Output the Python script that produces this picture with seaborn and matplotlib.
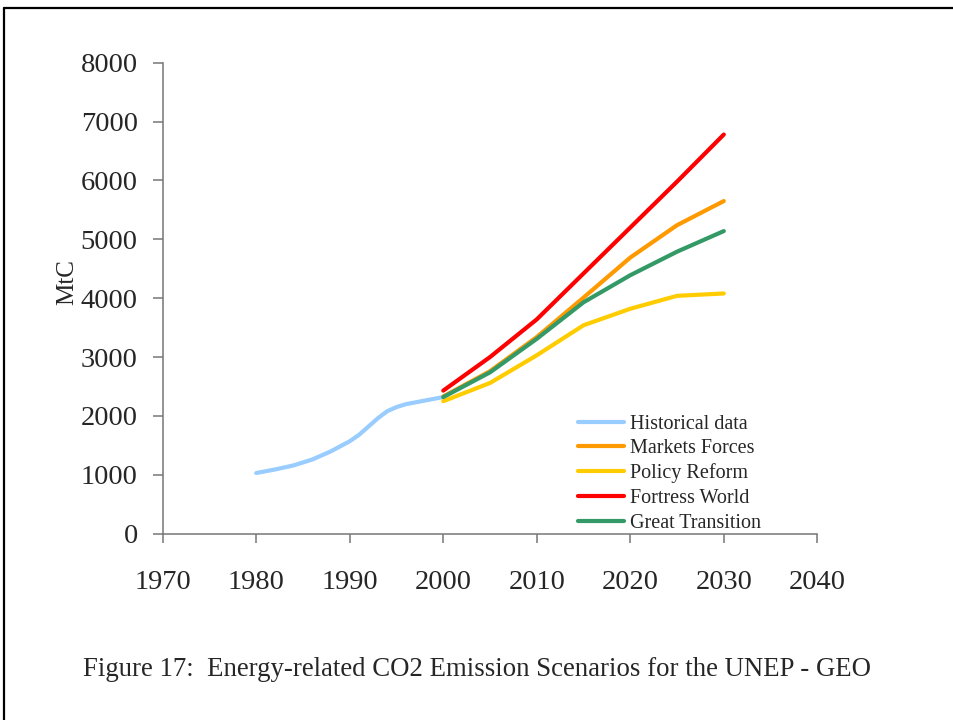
import numpy as np
import pandas as pd
import matplotlib
matplotlib.use("Agg")
import matplotlib.pyplot as plt
from matplotlib.lines import Line2D
import seaborn as sns

# === data (MtC) ===
hist_years = [1980, 1982, 1984, 1986, 1988, 1990, 1991, 1992, 1993, 1994, 1995, 1996, 1997, 1998, 2000]
hist_vals = [1030, 1090, 1160, 1260, 1400, 1570, 1680, 1820, 1960, 2080, 2150, 2200, 2230, 2260, 2320]

scen_years = [2000, 2005, 2010, 2015, 2020, 2025, 2030]
markets_forces = [2330, 2760, 3340, 4010, 4690, 5240, 5650]
policy_reform = [2250, 2560, 3030, 3540, 3820, 4040, 4080]
fortress_world = [2430, 3000, 3640, 4420, 5200, 5980, 6780]
great_transition = [2320, 2740, 3310, 3930, 4390, 4790, 5140]

labels = ["Historical data", "Markets Forces", "Policy Reform", "Fortress World", "Great Transition"]
colors = ["#99CCFF", "#FF9900", "#FFCC00", "#FF0000", "#339966"]

x_ticks = list(range(1970, 2041, 10))
y_ticks = list(range(0, 8001, 1000))

sns.set_style("white")
plt.rcParams["font.family"] = ["Liberation Serif", "DejaVu Serif"]

fig = plt.figure(figsize=(9.54, 7.2), dpi=100)
ax = fig.add_axes([0.1706, 0.2588, 0.6861, 0.6541])

series = [
    (hist_years, hist_vals),
    (scen_years, markets_forces),
    (scen_years, policy_reform),
    (scen_years, fortress_world),
    (scen_years, great_transition),
]
for (xs, ys), lab, col in zip(series, labels, colors):
    sns.lineplot(x=xs, y=ys, ax=ax, color=col, linewidth=3, label=lab)

ax.set_xlim(1970, 2040)
ax.set_ylim(0, 8000)
ax.set_xticks(x_ticks)
ax.set_yticks(y_ticks)
ax.set_xlabel("")
ax.set_ylabel("")

for s in ["top", "right"]:
    ax.spines[s].set_visible(False)
for s in ["left", "bottom"]:
    ax.spines[s].set_color("#777777")
    ax.spines[s].set_linewidth(1.1)

ax.tick_params(axis="y", direction="out", length=7, width=1.1, color="#777777",
               labelsize=20.5, pad=11, left=True)
ax.tick_params(axis="x", direction="out", length=6.5, width=1.1, color="#777777",
               labelsize=20.5, pad=19.5, bottom=True)

fig.text(67 / 954, 1 - 282 / 720, "MtC", rotation=90, fontsize=18,
         ha="center", va="center")

leg = ax.legend(loc="upper left", bbox_to_anchor=(0.635, 0.253), frameon=False,
                fontsize=14.5, handlelength=2.25, handletextpad=0.3,
                labelspacing=0.27, borderpad=0, borderaxespad=0)

fig.text(477 / 954, 1 - 669 / 720,
         "Figure 17:  Energy-related CO2 Emission Scenarios for the UNEP - GEO",
         fontsize=19.3, ha="center", va="center")

# page frame (left and top edges)
fig.add_artist(Line2D([4.5 / 954, 4.5 / 954], [0, 1 - 8 / 720], transform=fig.transFigure,
                      color="black", linewidth=1.6))
fig.add_artist(Line2D([4.5 / 954, 1], [1 - 8 / 720, 1 - 8 / 720], transform=fig.transFigure,
                      color="black", linewidth=1.6))

fig.savefig("out.png", dpi=100)
